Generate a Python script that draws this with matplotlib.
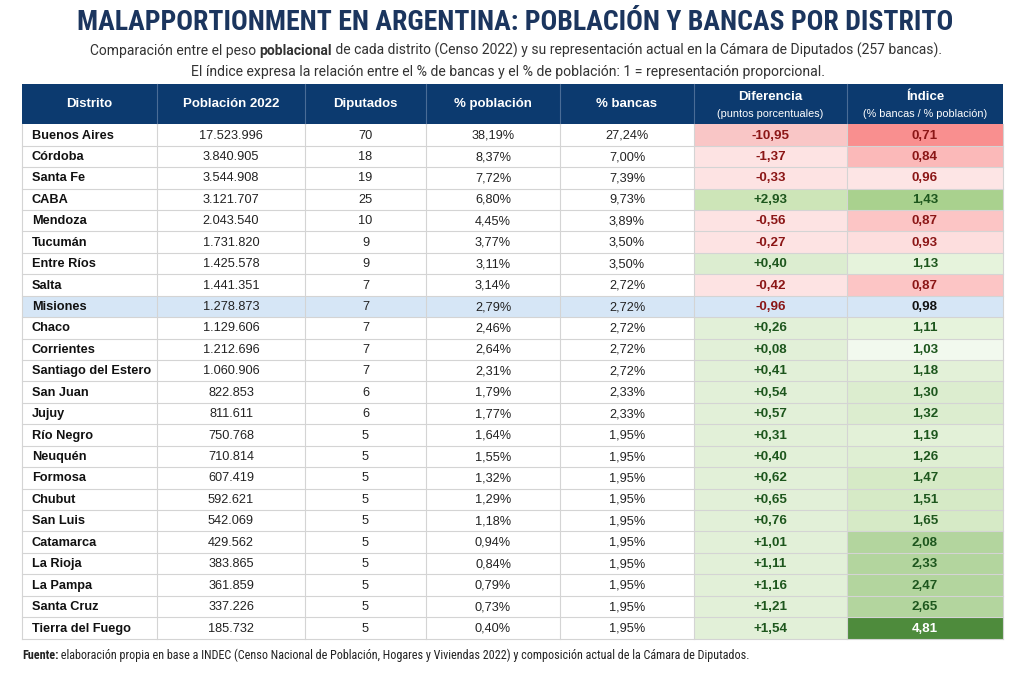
import matplotlib
matplotlib.use("Agg")
import matplotlib.pyplot as plt
from matplotlib import font_manager as fm
from matplotlib.patches import Rectangle

# ---- data ----
distritos = ["Buenos Aires", "Córdoba", "Santa Fe", "CABA", "Mendoza", "Tucumán",
             "Entre Ríos", "Salta", "Misiones", "Chaco", "Corrientes",
             "Santiago del Estero", "San Juan", "Jujuy", "Río Negro", "Neuquén",
             "Formosa", "Chubut", "San Luis", "Catamarca", "La Rioja", "La Pampa",
             "Santa Cruz", "Tierra del Fuego"]
poblacion = [17523996, 3840905, 3544908, 3121707, 2043540, 1731820, 1425578, 1441351,
             1278873, 1129606, 1212696, 1060906, 822853, 811611, 750768, 710814,
             607419, 592621, 542069, 429562, 383865, 361859, 337226, 185732]
diputados = [70, 18, 19, 25, 10, 9, 9, 7, 7, 7, 7, 7, 6, 6, 5, 5, 5, 5, 5, 5, 5, 5, 5, 5]
pct_poblacion = [38.19, 8.37, 7.72, 6.80, 4.45, 3.77, 3.11, 3.14, 2.79, 2.46, 2.64, 2.31,
                 1.79, 1.77, 1.64, 1.55, 1.32, 1.29, 1.18, 0.94, 0.84, 0.79, 0.73, 0.40]
pct_bancas = [27.24, 7.00, 7.39, 9.73, 3.89, 3.50, 3.50, 2.72, 2.72, 2.72, 2.72, 2.72,
              2.33, 2.33, 1.95, 1.95, 1.95, 1.95, 1.95, 1.95, 1.95, 1.95, 1.95, 1.95]
diferencia = [-10.95, -1.37, -0.33, 2.93, -0.56, -0.27, 0.40, -0.42, -0.96, 0.26, 0.08,
              0.41, 0.54, 0.57, 0.31, 0.40, 0.62, 0.65, 0.76, 1.01, 1.11, 1.16, 1.21, 1.54]
indice = [0.71, 0.84, 0.96, 1.43, 0.87, 0.93, 1.13, 0.87, 0.98, 1.11, 1.03, 1.18, 1.30,
          1.32, 1.19, 1.26, 1.47, 1.51, 1.65, 2.08, 2.33, 2.47, 2.65, 4.81]
destacado = "Misiones"

# cell shading of the two last columns
col_dif = ["#f9c6c6", "#fde3e3", "#fde3e3", "#cde5b8", "#fde3e3", "#fde3e3", "#dcedd0",
           "#fde3e3", None, "#e2f0d8", "#e2f0d8", "#e2f0d8", "#e2f0d8", "#e2f0d8",
           "#e2f0d8", "#e2f0d8", "#e2f0d8", "#e2f0d8", "#e2f0d8", "#e2f0d8", "#e2f0d8",
           "#e2f0d8", "#e2f0d8", "#e2f0d8"]
col_ind = ["#f98f8f", "#fbb9b9", "#fde5e5", "#a9d18e", "#fcc5c5", "#fddede", "#e6f3dc",
           "#fcc5c5", None, "#e6f3dc", "#f2f9ee", "#e3f1d8", "#dcedcf", "#dcedcf",
           "#e3f1d8", "#dfefd3", "#d6eac6", "#d6eac6", "#d6eac6", "#b3d59e", "#b3d59e",
           "#b3d59e", "#b3d59e", "#4e8b3c"]


def pick(*names):
    have = {f.name for f in fm.fontManager.ttflist}
    for n in names:
        if n in have:
            return n
    return "DejaVu Sans"


f_title = pick("Roboto Condensed", "Open Sans Condensed", "IBM Plex Sans Condensed", "Oswald")
f_cond = pick("Roboto Condensed", "IBM Plex Sans Condensed", "Archivo Narrow",
              "PT Sans Narrow", "Liberation Sans Narrow", "Open Sans Condensed")
f_sub = pick("Roboto", "Liberation Sans")
f_body = pick("Liberation Sans", "Arial", "Roboto")

NAVY = "#0c3a6f"
GRID = "#d4d4d4"
BLUE_ROW = "#d6e6f6"
RED_TXT = "#8b1616"
GREEN_TXT = "#1d561d"


def miles(n):
    return f"{n:,}".replace(",", ".")


def coma(v, dec=2):
    return f"{v:.{dec}f}".replace(".", ",")


fig = plt.figure(figsize=(10.24, 6.82), dpi=100)
ax = fig.add_axes([0, 0, 1, 1])
ax.set_xlim(0, 1024)
ax.set_ylim(682, 0)
ax.axis("off")

# ---- title / subtitle ----
ax.text(515, 22, "MALAPPORTIONMENT EN ARGENTINA: POBLACIÓN Y BANCAS POR DISTRITO",
        ha="center", va="center", fontsize=20, fontweight="bold", color="#1b355e",
        family=f_title)

renderer = fig.canvas.get_renderer()


def runs_line(parts, xc, y, size, color="#333333", family=f_cond, ha="center"):
    # pieces of one line with mixed weights, sharing a baseline
    objs = []
    for s, w in parts:
        t = ax.text(0, y, s, fontsize=size, fontweight=w, color=color, family=family,
                    va="baseline", ha="left")
        objs.append(t)
    widths = [t.get_window_extent(renderer).width for t in objs]
    x = xc - sum(widths) / 2 if ha == "center" else xc
    for t, w in zip(objs, widths):
        t.set_x(x)
        x += w


runs_line([("Comparación entre el peso ", "normal"), ("poblacional", "bold"),
           (" de cada distrito (Censo 2022) y su representación actual en la Cámara de Diputados (257 bancas).", "normal")],
          516, 55, 10.0, family=f_sub)
runs_line([("El índice expresa la relación entre el % de bancas y el % de población: 1 = representación proporcional.", "normal")],
          508, 76, 10.1, family=f_sub)

# ---- table ----
edges = [22, 157, 305, 426, 560, 694, 847, 1003]
head_top, head_bot = 84, 124.3
row_h = 21.43
n = len(distritos)

ax.add_patch(Rectangle((edges[0], head_top), edges[-1] - edges[0], head_bot - head_top,
                       facecolor=NAVY, edgecolor="none"))
for x in edges[1:-1]:
    ax.plot([x, x], [head_top, head_bot], color="#4a6c96", lw=0.8)

heads = ["Distrito", "Población 2022", "Diputados", "% población", "% bancas"]
for j, h in enumerate(heads):
    xc = (edges[j] + edges[j + 1]) / 2
    ax.text(xc, (head_top + head_bot) / 2, h, ha="center", va="center", color="white",
            fontsize=9.5, fontweight="bold", family=f_body)
for j, (h1, h2) in zip([5, 6], [("Diferencia", "(puntos porcentuales)"),
                              ("Índice", "(% bancas / % población)")]):
    xc = (edges[j] + edges[j + 1]) / 2
    ax.text(xc, 97, h1, ha="center", va="center", color="white", fontsize=9.5,
            fontweight="bold", family=f_body)
    ax.text(xc, 114, h2, ha="center", va="center", color="white", fontsize=7.8,
            family=f_body)

for i in range(n):
    top = head_bot + i * row_h
    yc = top + row_h / 2 + 0.6
    if distritos[i] == destacado:
        ax.add_patch(Rectangle((edges[0], top), edges[-1] - edges[0], row_h,
                               facecolor=BLUE_ROW, edgecolor="none"))
    else:
        ax.add_patch(Rectangle((edges[5], top), edges[6] - edges[5], row_h,
                               facecolor=col_dif[i], edgecolor="none"))
        ax.add_patch(Rectangle((edges[6], top), edges[7] - edges[6], row_h,
                               facecolor=col_ind[i], edgecolor="none"))

    ax.text(edges[0] + 10, yc, distritos[i], ha="left", va="center", fontsize=9.2,
            fontweight="bold", color="#111111", family=f_body)
    vals = [miles(poblacion[i]), str(diputados[i]), coma(pct_poblacion[i]) + "%",
            coma(pct_bancas[i]) + "%"]
    for j, v in enumerate(vals, start=1):
        ax.text((edges[j] + edges[j + 1]) / 2, yc, v, ha="center", va="center",
                fontsize=9.2, color="#222222", family=f_body)

    d = diferencia[i]
    ax.text((edges[5] + edges[6]) / 2, yc, ("+" if d > 0 else "") + coma(d),
            ha="center", va="center", fontsize=9.6, fontweight="bold",
            color=RED_TXT if d < 0 else GREEN_TXT, family=f_body)
    k = indice[i]
    if distritos[i] == destacado:
        kc = "#111111"
    elif k > 4:
        kc = "white"
    else:
        kc = RED_TXT if k < 1 else GREEN_TXT
    ax.text((edges[6] + edges[7]) / 2, yc, coma(k), ha="center", va="center",
            fontsize=9.6, fontweight="bold", color=kc, family=f_body)

    ax.plot([edges[0], edges[-1]], [top + row_h, top + row_h], color=GRID, lw=0.8)

bottom = head_bot + n * row_h
for x in edges:
    ax.plot([x, x], [head_bot, bottom], color=GRID, lw=0.8)

# ---- footer ----
runs_line([("Fuente:", "bold"),
           (" elaboración propia en base a INDEC (Censo Nacional de Población, Hogares y Viviendas 2022) y composición actual de la Cámara de Diputados.", "normal")],
          22, 659, 8.7, color="#222222", ha="left")

fig.savefig("out.png", dpi=100)
